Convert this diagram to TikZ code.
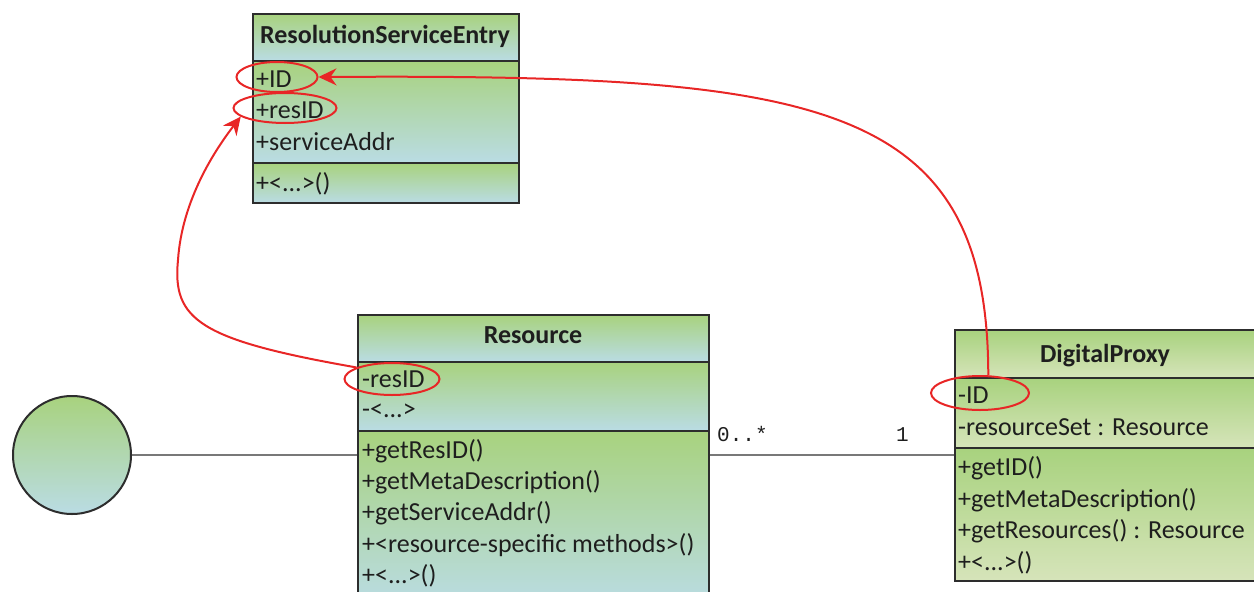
\documentclass[tikz,border=0pt]{standalone}
\usepackage{fontspec}
\setmainfont{Carlito}
\newfontfamily\multfont{Liberation Mono}
\usetikzlibrary{arrows.meta,shapes.geometric}
\definecolor{gtop}{RGB}{168,210,126}
\definecolor{bbot}{RGB}{186,220,228}
\definecolor{ybot}{RGB}{214,228,186}
\definecolor{bord}{RGB}{45,45,45}
\definecolor{redl}{RGB}{232,38,38}
\definecolor{greyl}{RGB}{120,120,120}
\definecolor{txtc}{RGB}{30,30,30}
\tikzset{
  x=1pt, y=-1pt,
  sec/.style={draw=bord, line width=2pt, top color=gtop, bottom color=bbot, anchor=north west, inner sep=0pt},
  secy/.style={draw=bord, line width=2pt, top color=gtop, bottom color=ybot, anchor=north west, inner sep=0pt},
  row/.style={anchor=base west, inner sep=0pt, text=txtc, font=\fontsize{26}{30}\selectfont},
  hdr/.style={anchor=base, inner sep=0pt, text=txtc, font=\fontsize{26}{30}\selectfont\bfseries},
  ring/.style={draw=redl, line width=2pt, ellipse, inner sep=0pt},
  redarrow/.style={draw=redl, line width=2pt, -{Stealth[length=18pt,width=17pt,inset=6pt]}},
  assoc/.style={draw=greyl, line width=1.8pt},
  mult/.style={anchor=base west, inner sep=0pt, text=txtc, font=\multfont\fontsize{21}{24}\selectfont},
}
\begin{document}
\begin{tikzpicture}
\useasboundingbox (0,0) rectangle (1254,592);
\clip (0,0) rectangle (1254,592);

% ResolutionServiceEntry
\node[sec, minimum width=266pt, minimum height=47pt] (rseH) at (252,13) {};
\node[sec, minimum width=266pt, minimum height=102pt] (rseA) at (252,60) {};
\node[sec, minimum width=266pt, minimum height=40pt] (rseM) at (252,162) {};
\node[hdr] (rseT) at (385,43) {ResolutionServiceEntry};
\node[row] (rse1) at (256,87) {+ID};
\node[row] (rse2) at (256,118) {+resID};
\node[row] (rse3) at (256,150) {+serviceAddr};
\node[row] (rse4) at (256,191) {+<...>()};

% Resource
\node[sec, minimum width=351pt, minimum height=47pt] (resH) at (357,314) {};
\node[sec, minimum width=351pt, minimum height=69pt] (resA) at (357,361) {};
\node[sec, minimum width=351pt, minimum height=175pt] (resM) at (357,430) {};
\node[hdr] (resT) at (533,343) {Resource};
\node[row] (res1) at (362,387) {-resID};
\node[row] (res2) at (362,417) {-<...>};
\node[row] (res3) at (362,458) {+getResID()};
\node[row] (res4) at (362,489) {+getMetaDescription()};
\node[row] (res5) at (362,520) {+getServiceAddr()};
\node[row] (res6) at (362,552) {+<resource-specific methods>()};
\node[row] (res7) at (362,583) {+<...>()};

% DigitalProxy
\node[secy, minimum width=320pt, minimum height=48pt] (dpH) at (954,329) {};
\node[secy, minimum width=320pt, minimum height=70pt] (dpA) at (954,377) {};
\node[secy, minimum width=320pt, minimum height=133pt] (dpM) at (954,447) {};
\node[hdr] (dpT) at (1105,362) {DigitalProxy};
\node[row] (dp1) at (958,403) {-ID};
\node[row] (dp2) at (958,435) {-resourceSet : Resource};
\node[row] (dp3) at (958,475) {+getID()};
\node[row] (dp4) at (958,507) {+getMetaDescription()};
\node[row] (dp5) at (958,538) {+getResources() : Resource};
\node[row] (dp6) at (958,570) {+<...>()};

% interface circle
\node[circle, draw=bord, line width=2pt, top color=gtop, bottom color=bbot, minimum size=118pt, inner sep=0pt] (iface) at (72,455) {};

% associations
\draw[assoc] (iface.east) -- (iface.east -| resM.west);
\draw[assoc] (resM.east |- iface.east) -- (dpM.west |- iface.east);
\node[mult] (m1) at (717,441) {0..*};
\node[mult] (m2) at (896,441) {1};

% red highlights
\node[ring, minimum width=81pt, minimum height=30pt] (e1) at (277,77) {};
\node[ring, minimum width=103pt, minimum height=30pt] (e2) at (285,108) {};
\node[ring, minimum width=95pt, minimum height=32pt] (e3) at (392,379) {};
\node[ring, minimum width=98pt, minimum height=34pt] (e4) at (980,393) {};

\draw[redarrow] (e3.162) .. controls (200,340) and (172,320) .. (178,260)
   .. controls (182,200) and (215,150) .. (e2.191);
\draw[redarrow] (e4.65) .. controls (988,100) and (820,74) .. (e1.east);
\end{tikzpicture}
\end{document}
